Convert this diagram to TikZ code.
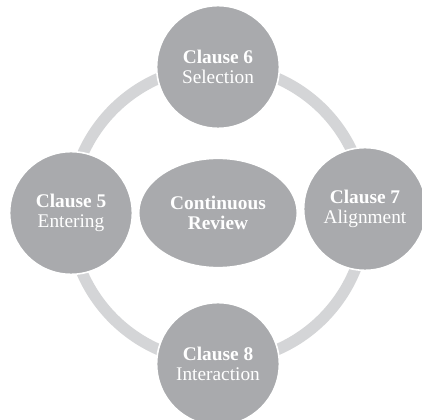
\documentclass[tikz,border=0pt]{standalone}
\usepackage{fontspec}
\setmainfont{Liberation Serif}
\usetikzlibrary{shapes.geometric}
\definecolor{clausegray}{HTML}{A9AAAD}
\definecolor{ringgray}{HTML}{D4D5D7}
\begin{document}
\begin{tikzpicture}[x=.75pt, y=-.75pt,
  clause/.style={circle, fill=clausegray, draw=white, line width=1.2pt,
    minimum size=92pt, inner sep=0pt, text=white, align=center,
    font=\fontsize{14.5}{15.5}\selectfont},
  review/.style={ellipse, fill=clausegray, draw=white, line width=1.2pt,
    minimum width=119pt, minimum height=82pt, inner sep=0pt, text=white,
    align=center, font=\bfseries\fontsize{14.5}{15.5}\selectfont}]
\useasboundingbox (0,0) rectangle (422,420);
\fill[white] (0,0) rectangle (422,420);
\coordinate (hub) at (218,214);
\draw[ringgray, line width=8.5pt] (hub) circle[radius=111pt];
\node[clause] (c6) at (218,67) {\textbf{Clause 6}\\Selection};
\node[clause] (c5) at (71,213) {\textbf{Clause 5}\\Entering};
\node[clause] (c7) at (365,209) {\textbf{Clause 7}\\Alignment};
\node[clause] (c8) at (218,364) {\textbf{Clause 8}\\Interaction};
\node[review] (cr) at (218,213) {Continuous\\Review};
\end{tikzpicture}
\end{document}
